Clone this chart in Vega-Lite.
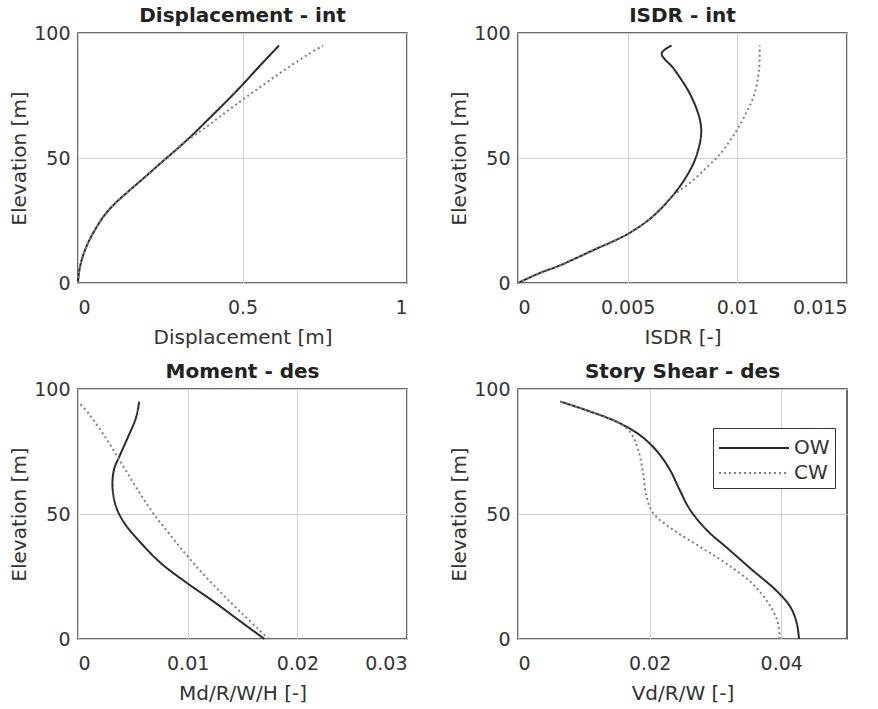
{
  "$schema": "https://vega.github.io/schema/vega-lite/v6.json",
  "background": "white",
  "padding": {"left": 8, "top": 5, "right": 0, "bottom": 0},
  "datasets": {
    "disp": [
      {"s": "OW", "x": 0, "e": 0}, {"s": "OW", "x": 0.002, "e": 3}, {"s": "OW", "x": 0.007, "e": 7},
      {"s": "OW", "x": 0.018, "e": 12}, {"s": "OW", "x": 0.034, "e": 17}, {"s": "OW", "x": 0.055, "e": 22},
      {"s": "OW", "x": 0.08, "e": 27}, {"s": "OW", "x": 0.11, "e": 31.5}, {"s": "OW", "x": 0.15, "e": 36.3},
      {"s": "OW", "x": 0.2, "e": 42}, {"s": "OW", "x": 0.25, "e": 47.8}, {"s": "OW", "x": 0.3, "e": 53.5},
      {"s": "OW", "x": 0.35, "e": 59.5}, {"s": "OW", "x": 0.4, "e": 66}, {"s": "OW", "x": 0.45, "e": 72.5},
      {"s": "OW", "x": 0.5, "e": 79.3}, {"s": "OW", "x": 0.55, "e": 86.5}, {"s": "OW", "x": 0.611, "e": 95},
      {"s": "CW", "x": 0, "e": 0}, {"s": "CW", "x": 0.002, "e": 3}, {"s": "CW", "x": 0.007, "e": 7},
      {"s": "CW", "x": 0.018, "e": 12}, {"s": "CW", "x": 0.034, "e": 17}, {"s": "CW", "x": 0.055, "e": 22},
      {"s": "CW", "x": 0.08, "e": 27}, {"s": "CW", "x": 0.11, "e": 31.5}, {"s": "CW", "x": 0.15, "e": 36.3},
      {"s": "CW", "x": 0.2, "e": 42}, {"s": "CW", "x": 0.25, "e": 47.8}, {"s": "CW", "x": 0.3, "e": 53.5},
      {"s": "CW", "x": 0.35, "e": 58.7}, {"s": "CW", "x": 0.4, "e": 63.4}, {"s": "CW", "x": 0.45, "e": 68.4},
      {"s": "CW", "x": 0.5, "e": 73.3}, {"s": "CW", "x": 0.55, "e": 78}, {"s": "CW", "x": 0.6, "e": 82.7},
      {"s": "CW", "x": 0.65, "e": 87.2}, {"s": "CW", "x": 0.7, "e": 91.5}, {"s": "CW", "x": 0.745, "e": 95}
    ],
    "isdr": [
      {"s": "OW", "x": 0, "e": 0}, {"s": "OW", "x": 0.001, "e": 4}, {"s": "OW", "x": 0.0019, "e": 7},
      {"s": "OW", "x": 0.0034, "e": 13}, {"s": "OW", "x": 0.005, "e": 19.6}, {"s": "OW", "x": 0.0061, "e": 26.3},
      {"s": "OW", "x": 0.007, "e": 34.4}, {"s": "OW", "x": 0.00767, "e": 42.5}, {"s": "OW", "x": 0.0081, "e": 50},
      {"s": "OW", "x": 0.00834, "e": 58.5}, {"s": "OW", "x": 0.00834, "e": 63}, {"s": "OW", "x": 0.0082, "e": 68.2},
      {"s": "OW", "x": 0.0078, "e": 76.3}, {"s": "OW", "x": 0.0071, "e": 85.7}, {"s": "OW", "x": 0.00655, "e": 91.8},
      {"s": "OW", "x": 0.007, "e": 95},
      {"s": "CW", "x": 0, "e": 0}, {"s": "CW", "x": 0.001, "e": 4}, {"s": "CW", "x": 0.0019, "e": 7},
      {"s": "CW", "x": 0.0034, "e": 13}, {"s": "CW", "x": 0.005, "e": 19.6}, {"s": "CW", "x": 0.0061, "e": 26.3},
      {"s": "CW", "x": 0.007, "e": 34.4}, {"s": "CW", "x": 0.0079, "e": 40.5}, {"s": "CW", "x": 0.00865, "e": 46.6},
      {"s": "CW", "x": 0.00925, "e": 52}, {"s": "CW", "x": 0.0098, "e": 58.7}, {"s": "CW", "x": 0.0103, "e": 66.2},
      {"s": "CW", "x": 0.01075, "e": 74.9}, {"s": "CW", "x": 0.01098, "e": 84.4}, {"s": "CW", "x": 0.01102, "e": 95}
    ],
    "moment": [
      {"s": "OW", "x": 0.017, "e": 0}, {"s": "OW", "x": 0.0147, "e": 7.4}, {"s": "OW", "x": 0.0122, "e": 15.5},
      {"s": "OW", "x": 0.01, "e": 22.2}, {"s": "OW", "x": 0.00757, "e": 30.3}, {"s": "OW", "x": 0.00574, "e": 38.4},
      {"s": "OW", "x": 0.00421, "e": 46.5}, {"s": "OW", "x": 0.00345, "e": 53.2}, {"s": "OW", "x": 0.00314, "e": 61.3},
      {"s": "OW", "x": 0.0033, "e": 68.1}, {"s": "OW", "x": 0.00375, "e": 72.8}, {"s": "OW", "x": 0.00451, "e": 80.3},
      {"s": "OW", "x": 0.00528, "e": 88.4}, {"s": "OW", "x": 0.00558, "e": 95},
      {"s": "CW", "x": 0.0174, "e": 0}, {"s": "CW", "x": 0.015, "e": 10}, {"s": "CW", "x": 0.0127, "e": 20},
      {"s": "CW", "x": 0.0106, "e": 30}, {"s": "CW", "x": 0.0087, "e": 40}, {"s": "CW", "x": 0.0069, "e": 50},
      {"s": "CW", "x": 0.0054, "e": 60}, {"s": "CW", "x": 0.004, "e": 70}, {"s": "CW", "x": 0.0026, "e": 80},
      {"s": "CW", "x": 0.001, "e": 90}, {"s": "CW", "x": 0.0002, "e": 94}
    ],
    "shear": [
      {"s": "OW", "x": 0.0064, "e": 95}, {"s": "OW", "x": 0.01095, "e": 91}, {"s": "OW", "x": 0.0149, "e": 87},
      {"s": "OW", "x": 0.0185, "e": 81.6}, {"s": "OW", "x": 0.021, "e": 75.5}, {"s": "OW", "x": 0.023, "e": 68.1},
      {"s": "OW", "x": 0.0245, "e": 60}, {"s": "OW", "x": 0.0261, "e": 51.9}, {"s": "OW", "x": 0.0286, "e": 43.8},
      {"s": "OW", "x": 0.0321, "e": 35.7}, {"s": "OW", "x": 0.0356, "e": 27.6}, {"s": "OW", "x": 0.0392, "e": 19.5},
      {"s": "OW", "x": 0.0414, "e": 12.8}, {"s": "OW", "x": 0.0424, "e": 6}, {"s": "OW", "x": 0.0427, "e": 0},
      {"s": "CW", "x": 0.0064, "e": 95}, {"s": "CW", "x": 0.01095, "e": 91}, {"s": "CW", "x": 0.0149, "e": 87},
      {"s": "CW", "x": 0.017, "e": 83}, {"s": "CW", "x": 0.0182, "e": 76.2}, {"s": "CW", "x": 0.019, "e": 66.7},
      {"s": "CW", "x": 0.0195, "e": 57.3}, {"s": "CW", "x": 0.0205, "e": 50.5}, {"s": "CW", "x": 0.0235, "e": 43.8},
      {"s": "CW", "x": 0.0276, "e": 37}, {"s": "CW", "x": 0.0316, "e": 30.3}, {"s": "CW", "x": 0.0356, "e": 22.2},
      {"s": "CW", "x": 0.0381, "e": 14.1}, {"s": "CW", "x": 0.0394, "e": 7.4}, {"s": "CW", "x": 0.0398, "e": 0}
    ]
  },
  "columns": 2,
  "spacing": {"row": 13, "column": 40},
  "resolve": {"scale": {"color": "independent", "strokeDash": "independent"}},
  "concat": [
    {
      "title": "Displacement - int",
      "width": 329, "height": 250,
      "data": {"name": "disp"},
      "mark": {"type": "line", "interpolate": "catmull-rom", "strokeWidth": 2},
      "encoding": {
        "x": {"field": "x", "type": "quantitative", "scale": {"domain": [0, 1], "nice": false, "zero": false}, "axis": {"values": [0, 0.5, 1], "labelExpr": "'' + datum.value", "title": "Displacement [m]"}},
        "y": {"field": "e", "type": "quantitative", "scale": {"domain": [0, 100], "nice": false}, "axis": {"values": [0, 50, 100], "title": "Elevation [m]"}},
        "order": {"field": "e"},
        "color": {"field": "s", "type": "nominal", "scale": {"domain": ["OW", "CW"], "range": ["#2b2b2b", "#808080"]}, "legend": null},
        "strokeDash": {"field": "s", "type": "nominal", "scale": {"domain": ["OW", "CW"], "range": [[1, 0], [2, 3]]}, "legend": null}
      }
    },
    {
      "title": "ISDR - int",
      "width": 329, "height": 250,
      "data": {"name": "isdr"},
      "mark": {"type": "line", "interpolate": "catmull-rom", "strokeWidth": 2},
      "encoding": {
        "x": {"field": "x", "type": "quantitative", "scale": {"domain": [0, 0.015], "nice": false, "zero": false}, "axis": {"values": [0, 0.005, 0.01, 0.015], "labelExpr": "'' + datum.value", "title": "ISDR [-]"}},
        "y": {"field": "e", "type": "quantitative", "scale": {"domain": [0, 100], "nice": false}, "axis": {"values": [0, 50, 100], "title": "Elevation [m]"}},
        "order": {"field": "e"},
        "color": {"field": "s", "type": "nominal", "scale": {"domain": ["OW", "CW"], "range": ["#2b2b2b", "#808080"]}, "legend": null},
        "strokeDash": {"field": "s", "type": "nominal", "scale": {"domain": ["OW", "CW"], "range": [[1, 0], [2, 3]]}, "legend": null}
      }
    },
    {
      "title": "Moment - des",
      "width": 329, "height": 250,
      "data": {"name": "moment"},
      "mark": {"type": "line", "interpolate": "catmull-rom", "strokeWidth": 2},
      "encoding": {
        "x": {"field": "x", "type": "quantitative", "scale": {"domain": [0, 0.03], "nice": false, "zero": false}, "axis": {"values": [0, 0.01, 0.02, 0.03], "labelExpr": "'' + datum.value", "title": "Md/R/W/H [-]"}},
        "y": {"field": "e", "type": "quantitative", "scale": {"domain": [0, 100], "nice": false}, "axis": {"values": [0, 50, 100], "title": "Elevation [m]"}},
        "order": {"field": "e"},
        "color": {"field": "s", "type": "nominal", "scale": {"domain": ["OW", "CW"], "range": ["#2b2b2b", "#808080"]}, "legend": null},
        "strokeDash": {"field": "s", "type": "nominal", "scale": {"domain": ["OW", "CW"], "range": [[1, 0], [2, 3]]}, "legend": null}
      }
    },
    {
      "title": "Story Shear - des",
      "width": 329, "height": 250,
      "data": {"name": "shear"},
      "mark": {"type": "line", "interpolate": "catmull-rom", "strokeWidth": 2},
      "encoding": {
        "x": {"field": "x", "type": "quantitative", "scale": {"domain": [0, 0.05], "nice": false, "zero": false}, "axis": {"values": [0, 0.02, 0.04], "labelExpr": "'' + datum.value", "title": "Vd/R/W [-]"}},
        "y": {"field": "e", "type": "quantitative", "scale": {"domain": [0, 100], "nice": false}, "axis": {"values": [0, 50, 100], "title": "Elevation [m]"}},
        "order": {"field": "e"},
        "color": {"field": "s", "type": "nominal", "scale": {"domain": ["OW", "CW"], "range": ["#2b2b2b", "#808080"]},
          "legend": {"orient": "none", "legendX": 195, "legendY": 39, "title": null, "strokeColor": "#333", "fillColor": "white", "padding": 5, "symbolType": "M-2.5,0H2.5", "symbolSize": 784, "symbolOffset": 21, "symbolStrokeWidth": 2, "labelFontSize": 20, "labelOffset": 25, "labelColor": "#333", "rowPadding": 0}},
        "strokeDash": {"field": "s", "type": "nominal", "scale": {"domain": ["OW", "CW"], "range": [[1, 0], [2, 3]]},
          "legend": {"orient": "none", "legendX": 195, "legendY": 39, "title": null, "strokeColor": "#333", "fillColor": "white", "padding": 5, "symbolType": "M-2.5,0H2.5", "symbolSize": 784, "symbolOffset": 21, "symbolStrokeWidth": 2, "labelFontSize": 20, "labelOffset": 25, "labelColor": "#333", "rowPadding": 0}}
      }
    }
  ],
  "config": {
    "font": "DejaVu Sans",
    "view": {"stroke": "#3a3a3a", "strokeWidth": 1.5},
    "axis": {"grid": true, "gridColor": "#d0d0d0", "gridWidth": 1, "domain": false, "ticks": false, "labelFontSize": 19, "titleFontSize": 20, "titleFontWeight": "normal", "labelColor": "#333", "titleColor": "#333", "labelFont": "DejaVu Sans", "titleFont": "DejaVu Sans"},
    "axisX": {"labelPadding": 15, "titlePadding": 10},
    "axisY": {"labelPadding": 8, "titlePadding": 4},
    "title": {"fontSize": 20, "fontWeight": "bold", "color": "#222", "offset": -2, "font": "DejaVu Sans"}
  }
}
